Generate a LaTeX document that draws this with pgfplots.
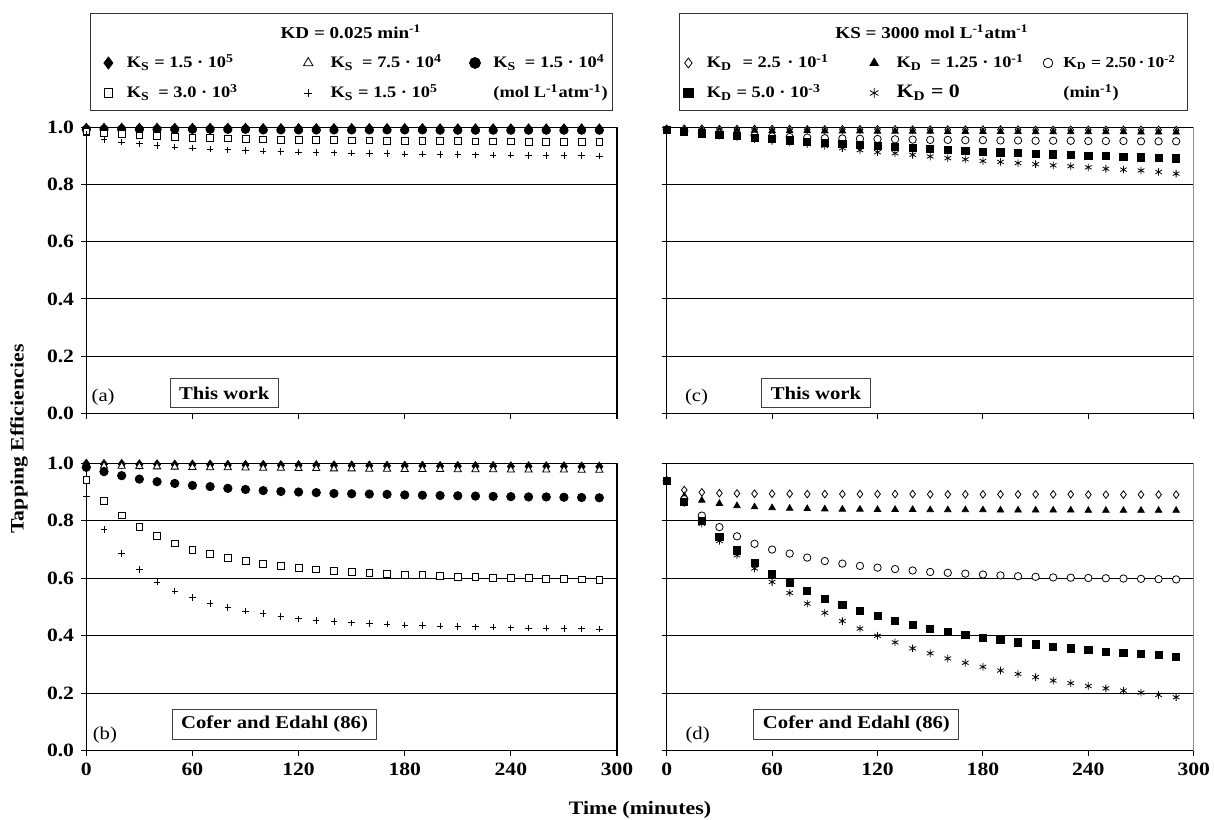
\documentclass[border=0pt]{standalone}
\usepackage{fontspec}
\setmainfont{Liberation Serif}[FakeStretch=1.15]
\usepackage{pgfplots}
\usepackage{pgfplotstable}
\pgfplotsset{compat=1.18}

\pgfplotstableread{
t dia tri cir sq plus
0 0.998 0.995 0.993 0.985 0.975
10 0.998 0.995 0.993 0.979 0.958
20 0.998 0.995 0.993 0.976 0.948
30 0.998 0.995 0.993 0.972 0.942
40 0.998 0.995 0.993 0.969 0.936
50 0.998 0.995 0.993 0.966 0.931
60 0.998 0.995 0.993 0.964 0.927
70 0.998 0.995 0.993 0.962 0.924
80 0.998 0.995 0.993 0.961 0.921
90 0.998 0.995 0.993 0.959 0.919
100 0.997 0.994 0.991 0.958 0.917
110 0.997 0.994 0.991 0.957 0.915
120 0.997 0.994 0.991 0.956 0.914
130 0.997 0.994 0.991 0.955 0.912
140 0.997 0.994 0.991 0.955 0.911
150 0.997 0.994 0.991 0.954 0.910
160 0.997 0.994 0.991 0.954 0.909
170 0.997 0.994 0.991 0.953 0.908
180 0.997 0.994 0.991 0.953 0.907
190 0.997 0.994 0.991 0.952 0.906
200 0.996 0.993 0.990 0.952 0.905
210 0.996 0.993 0.990 0.952 0.905
220 0.996 0.993 0.990 0.951 0.904
230 0.996 0.993 0.990 0.951 0.903
240 0.996 0.993 0.990 0.951 0.903
250 0.996 0.993 0.990 0.950 0.902
260 0.996 0.993 0.990 0.950 0.902
270 0.996 0.993 0.990 0.950 0.901
280 0.996 0.993 0.990 0.950 0.901
290 0.996 0.993 0.990 0.949 0.900
}\tabA

\pgfplotstableread{
t dia tri cir sq plus
0 0.998 0.992 0.986 0.942 0.886
10 0.997 0.991 0.971 0.870 0.770
20 0.997 0.990 0.957 0.819 0.686
30 0.996 0.989 0.945 0.779 0.630
40 0.996 0.988 0.936 0.747 0.587
50 0.995 0.987 0.930 0.721 0.555
60 0.995 0.986 0.923 0.700 0.533
70 0.995 0.985 0.919 0.684 0.512
80 0.994 0.985 0.913 0.672 0.498
90 0.994 0.984 0.909 0.660 0.486
100 0.994 0.983 0.905 0.651 0.477
110 0.993 0.983 0.902 0.644 0.467
120 0.993 0.982 0.900 0.637 0.459
130 0.993 0.982 0.898 0.631 0.453
140 0.992 0.981 0.895 0.627 0.449
150 0.992 0.981 0.894 0.622 0.445
160 0.992 0.980 0.893 0.619 0.442
170 0.991 0.980 0.892 0.616 0.440
180 0.991 0.979 0.890 0.613 0.437
190 0.991 0.979 0.889 0.611 0.436
200 0.990 0.979 0.888 0.608 0.434
210 0.990 0.978 0.887 0.606 0.432
220 0.990 0.978 0.886 0.604 0.431
230 0.990 0.978 0.885 0.602 0.430
240 0.989 0.977 0.884 0.601 0.428
250 0.989 0.977 0.883 0.600 0.427
260 0.989 0.977 0.883 0.598 0.426
270 0.989 0.977 0.882 0.597 0.425
280 0.988 0.976 0.881 0.596 0.424
290 0.988 0.976 0.880 0.595 0.423
}\tabB

\pgfplotstableread{
t odia tri ocir sq ast
0 0.995 0.991 0.992 0.990 0.990
10 0.995 0.990 0.987 0.985 0.984
20 0.995 0.990 0.982 0.979 0.977
30 0.994 0.989 0.978 0.974 0.971
40 0.994 0.989 0.974 0.969 0.965
50 0.994 0.989 0.971 0.964 0.959
60 0.994 0.988 0.968 0.959 0.953
70 0.994 0.988 0.966 0.954 0.947
80 0.993 0.988 0.964 0.950 0.941
90 0.993 0.987 0.962 0.946 0.935
100 0.993 0.987 0.961 0.942 0.927
110 0.993 0.987 0.960 0.938 0.920
120 0.993 0.986 0.959 0.934 0.913
130 0.993 0.986 0.958 0.931 0.909
140 0.992 0.986 0.957 0.927 0.904
150 0.992 0.986 0.956 0.924 0.898
160 0.992 0.985 0.956 0.921 0.892
170 0.992 0.985 0.955 0.918 0.888
180 0.992 0.985 0.955 0.915 0.882
190 0.992 0.985 0.954 0.912 0.879
200 0.992 0.985 0.954 0.910 0.875
210 0.991 0.984 0.953 0.907 0.871
220 0.991 0.984 0.953 0.905 0.867
230 0.991 0.984 0.953 0.903 0.864
240 0.991 0.984 0.952 0.901 0.860
250 0.991 0.984 0.952 0.899 0.855
260 0.991 0.984 0.952 0.897 0.852
270 0.991 0.983 0.951 0.895 0.849
280 0.991 0.983 0.951 0.893 0.844
290 0.990 0.983 0.951 0.891 0.838
}\tabC

\pgfplotstableread{
t odia tri ocir sq ast
0 0.940 0.940 0.940 0.940 0.940
10 0.907 0.886 0.875 0.867 0.862
20 0.899 0.871 0.818 0.801 0.790
30 0.896 0.860 0.778 0.743 0.730
40 0.895 0.852 0.746 0.697 0.680
50 0.894 0.848 0.720 0.653 0.634
60 0.894 0.845 0.700 0.616 0.587
70 0.894 0.843 0.686 0.584 0.549
80 0.893 0.842 0.672 0.555 0.512
90 0.893 0.841 0.660 0.527 0.480
100 0.893 0.840 0.651 0.506 0.451
110 0.893 0.840 0.643 0.487 0.425
120 0.893 0.839 0.637 0.469 0.400
130 0.893 0.839 0.632 0.452 0.377
140 0.893 0.839 0.627 0.439 0.356
150 0.892 0.838 0.622 0.425 0.339
160 0.892 0.838 0.619 0.414 0.321
170 0.892 0.838 0.616 0.402 0.306
180 0.892 0.838 0.613 0.393 0.292
190 0.892 0.837 0.610 0.385 0.279
200 0.892 0.837 0.607 0.377 0.267
210 0.892 0.837 0.605 0.370 0.256
220 0.892 0.837 0.603 0.362 0.244
230 0.892 0.837 0.602 0.356 0.235
240 0.891 0.836 0.601 0.350 0.225
250 0.891 0.836 0.600 0.345 0.217
260 0.891 0.836 0.599 0.341 0.209
270 0.891 0.836 0.598 0.336 0.202
280 0.891 0.836 0.597 0.333 0.194
290 0.891 0.836 0.596 0.327 0.186
}\tabD

\pgfplotsset{
  lg/.style={legend image code/.code={\draw[##1] plot coordinates {(0pt,0pt)}; \path (-6pt,0pt) (#1,0pt);}},
  lg/.default=9pt,
  mk/.style={only marks, mark options={draw=black, line width=0.4pt}},
  sDia/.style={mk, mark=diamond*, mark size=2.3pt, mark options={fill=black}, lg},
  sTri/.style={mk, mark=triangle*, mark size=2.1pt, mark options={fill=white}, lg=11pt},
  sCir/.style={mk, mark=*, mark size=2.1pt, mark options={fill=black}, lg},
  sSq/.style={mk, mark=square*, mark size=1.7pt, mark options={fill=white}, lg},
  sPlus/.style={mk, mark=+, mark size=1.6pt, lg=11pt},
  sODia/.style={mk, mark=diamond*, mark size=1.9pt, mark options={fill=white}, lg},
  sFTri/.style={mk, mark=triangle*, mark size=1.85pt, mark options={fill=black}, lg=11pt},
  sOCir/.style={mk, mark=*, mark size=1.85pt, mark options={fill=white}, lg=7.5pt},
  sFSq/.style={mk, mark=square*, mark size=1.8pt, mark options={fill=black}, lg},
  sAst/.style={mk, mark=asterisk, mark size=1.9pt, lg=11pt},
  panel/.style={scale only axis, anchor=south west,
    xmin=0, xmax=300, ymin=0, ymax=1,
    xtick={0,60,120,180,240,300}, ytick={0,0.2,0.4,0.6,0.8,1},
    xticklabels={}, yticklabels={},
    tick align=outside, tick pos=left, major tick length=2.6pt,
    every tick/.style={black, line width=0.55pt},
    ymajorgrids, grid style={black, line width=0.45pt},
    axis line style={black, line width=0.6pt},
    clip=false,
    ticklabel style={font=\fontsize{9.4}{10}\selectfont\bfseries},
  },
  xlab/.style={xticklabels={0,60,120,180,240,300}},
  ylab/.style={yticklabels={0.0,0.2,0.4,0.6,0.8,1.0}},
  lgd/.style={legend columns=3, legend cell align=left,
    legend image post style={every mark/.append style={scale=1.3}},
    legend style={draw=none, fill=none, inner sep=0pt, outer sep=0pt,
      at={#1}, anchor=north west, column sep=0pt, row sep=0pt,
      nodes={inner sep=0pt, text height=10pt, text depth=5pt,
        font=\fontsize{8}{9}\selectfont\bfseries}}},
}

\begin{document}
\begin{tikzpicture}
\path[use as bounding box] (0pt,0pt) rectangle (607pt,-409.5pt);

% (a)
\begin{axis}[panel, ylab, at={(43.15pt,-206.65pt)}, width=265.35pt, height=143pt,
  lgd={(0.0183,1.2773)}]
\addplot[sDia] table[x=t,y=dia]{\tabA};
\addlegendentry{\makebox[84.5pt][l]{K\textsubscript{S} = 1.5 · 10\textsuperscript{5}}}
\addplot[sTri] table[x=t,y=tri]{\tabA};
\addlegendentry{\makebox[66pt][l]{K\textsubscript{S}\hspace{2pt} = 7.5 · 10\textsuperscript{4}}}
\addplot[sCir] table[x=t,y=cir]{\tabA};
\addlegendentry{\makebox[60pt][l]{K\textsubscript{S}\hspace{2pt} = 1.5 · 10\textsuperscript{4}}}
\addplot[sSq] table[x=t,y=sq]{\tabA};
\addlegendentry{\makebox[84.5pt][l]{K\textsubscript{S}\hspace{2pt} = 3.0 · 10\textsuperscript{3}}}
\addplot[sPlus] table[x=t,y=plus]{\tabA};
\addlegendentry{\makebox[66pt][l]{K\textsubscript{S} = 1.5 · 10\textsuperscript{5}}}
\addlegendimage{empty legend}
\addlegendentry{\makebox[60pt][l]{(mol L\textsuperscript{-1}atm\textsuperscript{-1})}}
\node[font=\fontsize{9}{10}\selectfont] at (axis cs:9.5,0.056) {(a)};
\node[draw=black!75, line width=0.5pt, fill=white, font=\fontsize{9}{10}\selectfont\bfseries,
  inner xsep=4.5pt, inner ysep=2pt, minimum height=14.5pt] at (axis cs:78,0.07) {This work};
\draw[black, line width=0.6pt] (rel axis cs:1,0) -- (rel axis cs:1,1);
\end{axis}

% (b)
\begin{axis}[panel, xlab, ylab, at={(43.15pt,-375.35pt)}, width=265.35pt, height=143.7pt]
\addplot[sDia] table[x=t,y=dia]{\tabB};
\addplot[sTri] table[x=t,y=tri]{\tabB};
\addplot[sCir] table[x=t,y=cir]{\tabB};
\addplot[sSq] table[x=t,y=sq]{\tabB};
\addplot[sPlus] table[x=t,y=plus]{\tabB};
\node[font=\fontsize{9}{10}\selectfont] at (axis cs:10.5,0.055) {(b)};
\node[draw=black!75, line width=0.5pt, fill=white, font=\fontsize{9}{10}\selectfont\bfseries,
  inner xsep=4.5pt, inner ysep=2pt, minimum height=15pt] at (axis cs:106.4,0.091) {Cofer and Edahl (86)};
\end{axis}

% (c)
\begin{axis}[panel, at={(333.35pt,-206.65pt)}, width=263.5pt, height=143pt,
  lgd={(0.0176,1.2773)}]
\addplot[sODia] table[x=t,y=odia]{\tabC};
\addlegendentry{\makebox[77.5pt][l]{K\textsubscript{D}\hspace{3pt} = 2.5\hspace{1pt} · 10\textsuperscript{-1}}}
\addplot[sFTri] table[x=t,y=tri]{\tabC};
\addlegendentry{\makebox[69.5pt][l]{K\textsubscript{D}\hspace{2pt} = 1.25 · 10\textsuperscript{-1}}}
\addplot[sOCir] table[x=t,y=ocir]{\tabC};
\addlegendentry{\makebox[55pt][l]{\fontsize{7.6}{9}\selectfont K\textsubscript{D} = 2.50\,·\,10\textsuperscript{-2}}}
\addplot[sFSq] table[x=t,y=sq]{\tabC};
\addlegendentry{\makebox[77.5pt][l]{K\textsubscript{D} = 5.0 · 10\textsuperscript{-3}}}
\addplot[sAst] table[x=t,y=ast]{\tabC};
\addlegendentry{\makebox[69.5pt][l]{\fontsize{9.5}{10}\selectfont K\textsubscript{D} = 0}}
\addlegendimage{empty legend}
\addlegendentry{\makebox[55pt][l]{(min\textsuperscript{-1})}}
\node[font=\fontsize{9}{10}\selectfont] at (axis cs:17,0.056) {(c)};
\node[draw=black!75, line width=0.5pt, fill=white, font=\fontsize{9}{10}\selectfont\bfseries,
  inner xsep=4.5pt, inner ysep=2pt, minimum height=14.5pt] at (axis cs:85,0.07) {This work};
\draw[black!45, line width=0.7pt] (rel axis cs:1,0) -- (rel axis cs:1,1);
\end{axis}

% (d)
\begin{axis}[panel, xlab, at={(333.35pt,-375.35pt)}, width=263.5pt, height=143.7pt]
\addplot[sODia] table[x=t,y=odia]{\tabD};
\addplot[sFTri] table[x=t,y=tri]{\tabD};
\addplot[sOCir] table[x=t,y=ocir]{\tabD};
\addplot[sFSq] table[x=t,y=sq]{\tabD};
\addplot[sAst] table[x=t,y=ast]{\tabD};
\node[font=\fontsize{9}{10}\selectfont] at (axis cs:17.6,0.055) {(d)};
\node[draw=black!75, line width=0.5pt, fill=white, font=\fontsize{9}{10}\selectfont\bfseries,
  inner xsep=4.5pt, inner ysep=2pt, minimum height=15pt] at (axis cs:108,0.091) {Cofer and Edahl (86)};
\draw[black!45, line width=0.7pt] (rel axis cs:1,0) -- (rel axis cs:1,1);
\end{axis}

% legend frames and titles
\draw[black!80, line width=0.5pt] (45pt,-6.5pt) rectangle (306pt,-55pt);
\draw[black!80, line width=0.5pt] (339.5pt,-6.5pt) rectangle (593.5pt,-55pt);
\node[font=\fontsize{8.3}{10}\selectfont\bfseries] at (175.5pt,-16pt) {KD = 0.025 min\textsuperscript{-1}};
\node[font=\fontsize{8.3}{10}\selectfont\bfseries] at (466pt,-16pt) {KS = 3000 mol L\textsuperscript{-1}atm\textsuperscript{-1}};

% axis titles
\node[font=\fontsize{9.5}{11}\selectfont\bfseries] at (320pt,-405pt) {Time (minutes)};
\node[rotate=90, font=\fontsize{9.5}{11}\selectfont\bfseries] at (9.5pt,-219.5pt) {Tapping Efficiencies};
\end{tikzpicture}
\end{document}
